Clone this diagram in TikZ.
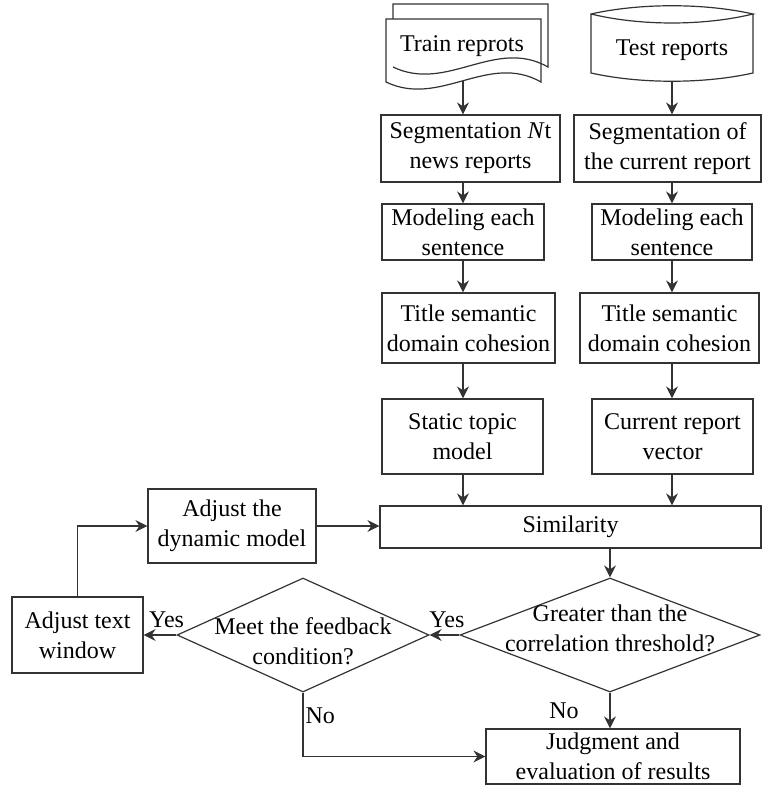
\documentclass[tikz,border=0pt]{standalone}
\usepackage{fontspec}
\setmainfont{Liberation Serif}
\usepackage{tikz}
\usetikzlibrary{arrows.meta,shapes.geometric,positioning}

\tikzset{
	box/.style={draw=black!80, line width=0.6pt, align=center, inner sep=1pt, font=\fontsize{12}{15}\selectfont},
	decision/.style={draw=black!80, line width=0.6pt, diamond, inner sep=0pt},
	txt/.style={align=center, inner sep=1pt, font=\fontsize{12}{15}\selectfont},
	lbl/.style={font=\fontsize{12}{15}\selectfont},
	line/.style={draw=black!80, line width=0.6pt},
	arr/.style={draw=black!80, line width=0.6pt, -{Stealth[length=6pt,width=6pt,inset=2pt]}},
}

\begin{document}
\begin{tikzpicture}[x=0.5pt, y=-0.5pt]
	\useasboundingbox (0,0) rectangle (762,785);
	\path (463,0) coordinate (colL);
	\path (672,0) coordinate (colR);
	\path (463,81) coordinate (trainEnd);
	\path (672,81) coordinate (testEnd);
	
	% stacked documents
	\draw[line] (393,19) -- (393,4) -- (548,4) -- (548,67) .. controls (495,37) and (447,93) .. (393,67);
	\draw[line] (386,19) -- (541,19) -- (541,82) .. controls (488,52) and (440,108) .. (386,82) -- cycle;
	\node[txt] (trainDoc) at (462,46) {Train reprots};
	
	% stored data
	\draw[line] (591,14) .. controls (640,3) and (704,3) .. (753,14) .. controls (704,26) and (640,26) .. (591,14) -- (591,73) .. controls (640,84) and (704,84) .. (753,73) -- (753,14);
	\node[txt] (testDisk) at (672,50) {Test reports};
	
	\node[box, minimum width=89.5pt, minimum height=33.5pt] (segL) at (470.5,148.5) {Segmentation \textit{N}t\\news reports};
	\node[box, minimum width=93.5pt, minimum height=33.5pt] (segR) at (667.5,148.5) {Segmentation of\\the current report};
	\node[box, minimum width=81pt, minimum height=28pt] (modL) at (463,232) {Modeling each\\sentence};
	\node[box, minimum width=80pt, minimum height=28pt] (modR) at (672,232) {Modeling each\\sentence};
	\node[box, minimum width=86.5pt, minimum height=35pt] (titL) at (468.5,328) {Title semantic\\domain cohesion};
	\node[box, minimum width=89.5pt, minimum height=35pt] (titR) at (669.5,328) {Title semantic\\domain cohesion};
	\node[box, minimum width=80.5pt, minimum height=37.5pt] (statL) at (462.5,436.5) {Static topic\\model};
	\node[box, minimum width=80.5pt, minimum height=37.5pt] (curR) at (672.5,436.5) {Current report\\vector};
	\node[box, minimum width=190.5pt, minimum height=21pt] (sim) at (570.5,527) {Similarity};
	\node[box, minimum width=84pt, minimum height=37pt] (dyn) at (232,526) {Adjust the\\dynamic model};
	\node[box, minimum width=65.5pt, minimum height=38pt] (win) at (77.5,635) {Adjust text\\window};
	\node[decision, minimum width=150pt, minimum height=57pt] (corr) at (610,635) {};
	\node[txt] (corrText) at ([yshift=3.5pt]corr.center) {Greater than the\\correlation threshold?};
	\node[decision, minimum width=126pt, minimum height=57pt] (feed) at (303,635) {};
	\node[txt] (feedText) at ([yshift=-3pt]feed.center) {Meet the feedback\\condition?};
	\node[box, minimum width=127pt, minimum height=27.5pt] (judg) at (613,756.5) {Judgment and\\evaluation of results};
	
	\draw[arr] (trainEnd) -- (segL.north -| colL);
	\draw[arr] (testEnd) -- (segR.north -| colR);
	\draw[arr] (segL.south -| colL) -- (modL.north -| colL);
	\draw[arr] (segR.south -| colR) -- (modR.north -| colR);
	\draw[arr] (modL.south -| colL) -- (titL.north -| colL);
	\draw[arr] (modR.south -| colR) -- (titR.north -| colR);
	\draw[arr] (titL.south -| colL) -- (statL.north -| colL);
	\draw[arr] (titR.south -| colR) -- (curR.north -| colR);
	\draw[arr] (statL.south -| colL) -- (sim.north -| colL);
	\draw[arr] (curR.south -| colR) -- (sim.north -| colR);
	\draw[arr] (dyn.east) -- (dyn.east -| sim.west);
	\draw[arr] (sim.south -| corr.north) -- (corr.north);
	\draw[arr] (corr.west) -- node[lbl, pos=0.42, above] {Yes} (feed.east);
	\draw[arr] (feed.west) -- node[lbl, pos=0.3, above] {Yes} (win.east);
	\draw[arr] (win.north) |- (dyn.west);
	\draw[arr] (corr.south) -- node[lbl, left=12pt] {No} (judg.north -| corr.south);
	\draw[arr] (feed.south) |- node[lbl, pos=0.18, right, inner sep=1pt] {No} (judg.west);
\end{tikzpicture}
\end{document}
